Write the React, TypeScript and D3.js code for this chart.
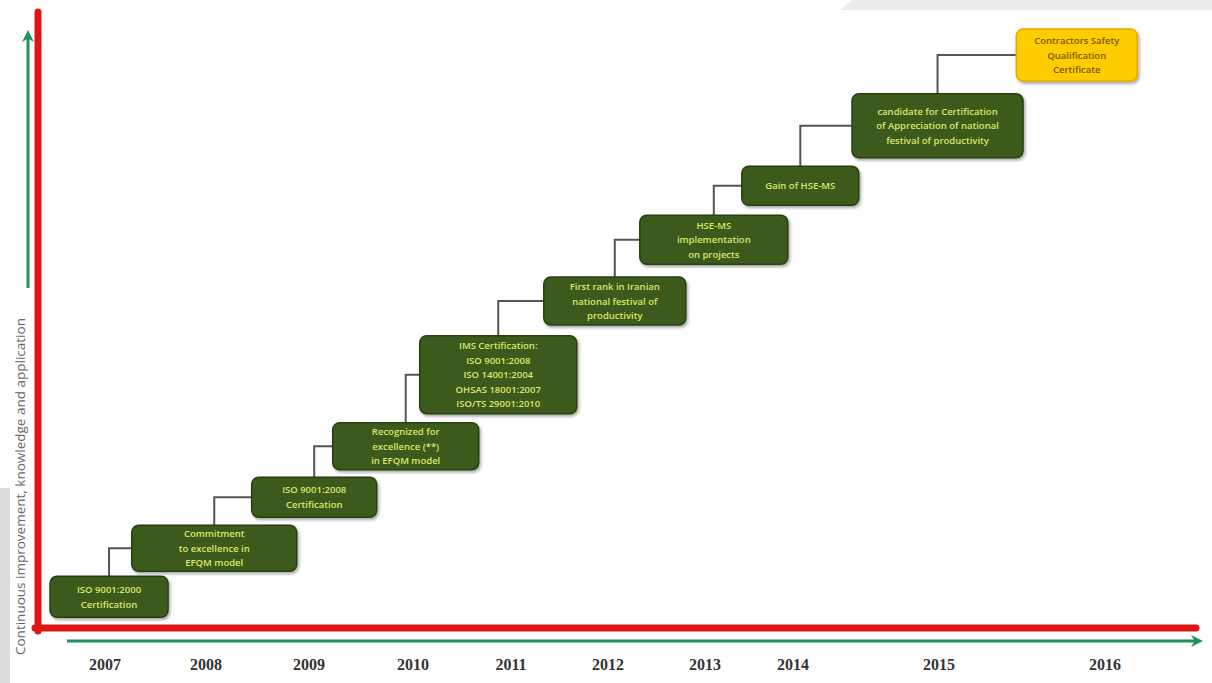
import React from "react";
import * as d3 from "d3";

// ---- data ----
const YEARS = [2007, 2008, 2009, 2010, 2011, 2012, 2013, 2014, 2015, 2016];

const MILESTONE_LABELS: string[][] = [
  ["ISO 9001:2000", "Certification"],
  ["Commitment", "to excellence in", "EFQM model"],
  ["ISO 9001:2008", "Certification"],
  ["Recognized for", "excellence (**)", "in EFQM model"],
  ["IMS Certification:", "ISO 9001:2008", "ISO 14001:2004", "OHSAS 18001:2007", "ISO/TS 29001:2010"],
  ["First rank in Iranian", "national festival of", "productivity"],
  ["HSE-MS", "implementation", "on projects"],
  ["Gain of HSE-MS"],
  ["candidate for Certification", "of Appreciation of national", "festival of productivity"],
  ["Contractors Safety", "Qualification", "Certificate"],
];
// time position of each milestone (fractional year)
const MILESTONE_TIME = [2007.04, 2008.08, 2009.05, 2009.93, 2010.87, 2012.07, 2013.1, 2014.05, 2014.99, 2015.83];
// level of "continuous improvement" (0-100)
const MILESTONE_LEVEL = [5.2, 13.3, 21.8, 30.3, 42.2, 54.5, 64.7, 73.7, 83.7, 95.5];
const HIGHLIGHT = [false, false, false, false, false, false, false, false, false, true];

const Y_AXIS_LABEL = "Continuous improvement, knowledge and application";

// ---- layout / style ----
const W = 1212;
const H = 683;
const YEAR_STOPS = [105, 206, 309, 413, 511, 608, 705, 793, 939, 1105];
const BOX_W = [118, 165, 125, 146, 157, 142, 148, 117, 171, 121];
const BOX_H = [41, 46, 40, 47, 78, 48, 49, 39, 64, 52];
const LINE_H = 14.5;

export default function App() {
  const x = d3.scaleLinear().domain(YEARS).range(YEAR_STOPS);
  const y = d3.scaleLinear().domain([0, 100]).range([628, 28]);

  const boxes = MILESTONE_LABELS.map((lines, i) => {
    const cx = x(MILESTONE_TIME[i]);
    const cy = y(MILESTONE_LEVEL[i]);
    const w = BOX_W[i];
    const h = BOX_H[i];
    return { lines, cx, cy, w, h, hl: HIGHLIGHT[i] };
  });

  const connectors = boxes.slice(0, -1).map((b, i) => {
    const n = boxes[i + 1];
    const path = d3.path();
    path.moveTo(b.cx, b.cy - b.h / 2);
    path.lineTo(b.cx, n.cy);
    path.lineTo(n.cx - n.w / 2, n.cy);
    return path.toString();
  });

  const redV = d3.line()([
    [38, 12],
    [38, 631],
  ]);
  const redH = d3.line()([
    [35, 628],
    [1196, 628],
  ]);

  return (
    <svg
      width={W}
      height={H}
      viewBox={`0 0 ${W} ${H}`}
      style={{ position: "absolute", left: 0, top: 0, background: "#ffffff" }}
    >
      <defs>
        <marker id="arrowG" viewBox="0 0 10 10" refX="5" refY="5" markerWidth="4" markerHeight="4" orient="auto">
          <path d="M0,0 L10,5 L0,10 L3,5 Z" fill="#23905f" />
        </marker>
        <filter id="shadow" x="-10%" y="-10%" width="130%" height="140%">
          <feDropShadow dx="1.5" dy="2" stdDeviation="1.5" floodColor="#000" floodOpacity="0.35" />
        </filter>
      </defs>

      {/* background corners */}
      <polygon points="840,10 852,0 1212,0 1212,10" fill="#ececec" />
      <rect x={0} y={488} width={10} height={195} fill="#dcdcdc" />

      {/* axes */}
      <path d={redV!} stroke="#dd1515" strokeWidth={7} strokeLinecap="round" fill="none" />
      <path d={redH!} stroke="#dd1515" strokeWidth={7} strokeLinecap="round" fill="none" />
      <line x1={28} y1={288} x2={28} y2={36} stroke="#23905f" strokeWidth={3} markerEnd="url(#arrowG)" />
      <line x1={67} y1={641} x2={1197} y2={641} stroke="#23905f" strokeWidth={3} markerEnd="url(#arrowG)" />

      <text
        transform={`translate(21,${y(0) + 27}) rotate(-90)`}
        fontFamily="'Open Sans', sans-serif"
        fontSize={13.5}
        fill="#666"
        textAnchor="start"
        dominantBaseline="middle"
      >
        {Y_AXIS_LABEL}
      </text>

      {YEARS.map((yr) => (
        <text
          key={yr}
          x={x(yr)}
          y={670}
          textAnchor="middle"
          fontFamily="'Liberation Serif', 'Times New Roman', serif"
          fontWeight="bold"
          fontSize={16}
          fill="#333"
        >
          {yr}
        </text>
      ))}

      {connectors.map((d, i) => (
        <path key={i} d={d} stroke="#555" strokeWidth={2} fill="none" />
      ))}

      {boxes.map((b, i) => (
        <g key={i}>
          <rect
            x={b.cx - b.w / 2}
            y={b.cy - b.h / 2}
            width={b.w}
            height={b.h}
            rx={7}
            ry={7}
            fill={b.hl ? "#ffcc00" : "#3a5a1d"}
            stroke={b.hl ? "#e5a800" : "#27400f"}
            strokeWidth={1.5}
            filter="url(#shadow)"
          />
          {b.lines.map((ln, j) => (
            <text
              key={j}
              x={b.cx}
              y={b.cy + (j - (b.lines.length - 1) / 2) * LINE_H}
              textAnchor="middle"
              dominantBaseline="central"
              fontFamily="'Open Sans', sans-serif"
              fontWeight={600}
              fontSize={9.5}
              fill={b.hl ? "#7a5a00" : "#dde86a"}
            >
              {ln}
            </text>
          ))}
        </g>
      ))}
    </svg>
  );
}
